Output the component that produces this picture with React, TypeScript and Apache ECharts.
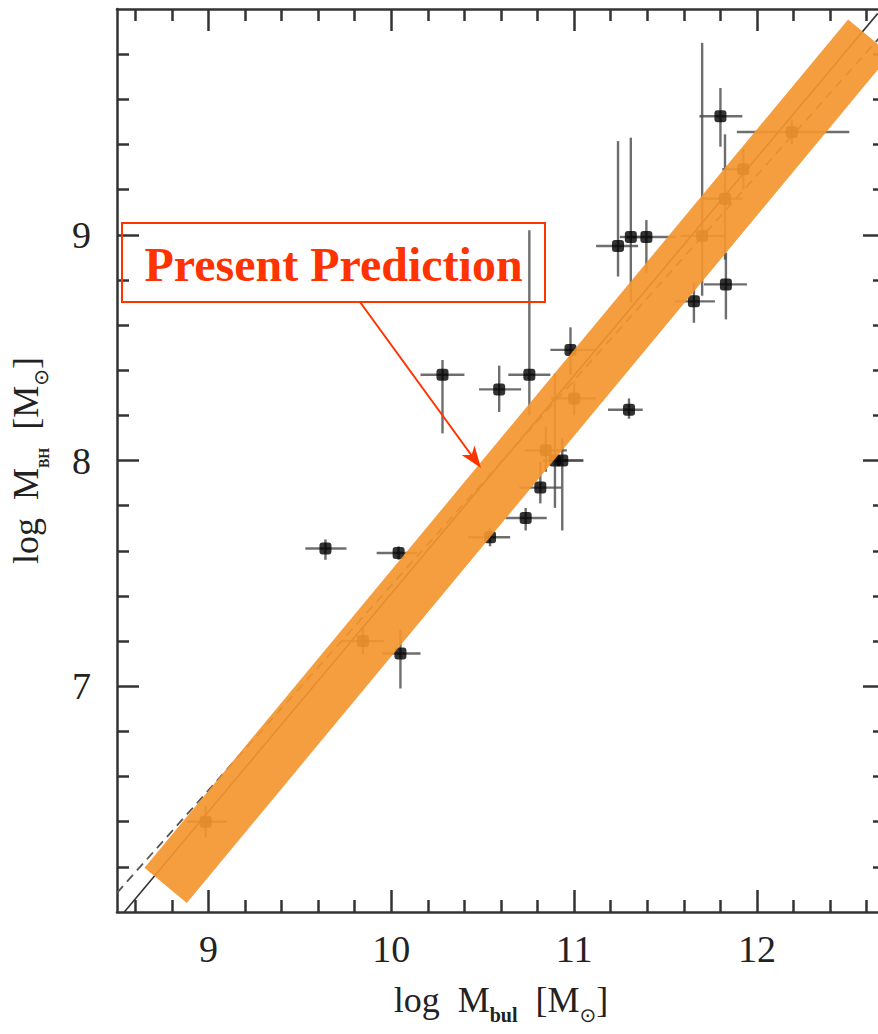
import React, { useEffect, useRef } from "react";
import * as echarts from "echarts";

// ---- data ----
const bulgeMass = [9.64, 10.04, 10.05, 10.28, 10.59, 10.755, 10.98, 11.30, 10.895, 10.935, 10.815, 10.735, 10.54, 11.24, 11.31, 11.395, 11.655, 11.83, 11.80, 8.985, 9.845, 11.0, 10.845, 11.70, 11.825, 11.925, 12.19];
const bhMass = [7.61, 7.59, 7.145, 8.38, 8.315, 8.38, 8.49, 8.225, 8.0, 8.0, 7.88, 7.745, 7.66, 8.95, 8.99, 8.99, 8.705, 8.78, 9.525, 6.40, 7.20, 8.275, 8.045, 8.995, 9.16, 9.29, 9.455];
const bulgeLo = [9.53, 9.92, 9.95, 10.16, 10.48, 10.64, 10.87, 11.185, 10.83, 10.87, 10.70, 10.625, 10.42, 11.12, 11.25, 11.29, 11.55, 11.71, 11.685, 8.88, 9.73, 10.87, 10.73, 11.58, 11.70, 11.81, 11.89];
const bulgeHi = [9.755, 10.14, 10.16, 10.40, 10.71, 10.87, 11.12, 11.375, 11.05, 11.05, 10.93, 10.85, 10.65, 11.35, 11.37, 11.555, 11.77, 11.945, 11.92, 9.10, 9.96, 11.12, 10.96, 11.82, 11.92, 11.94, 12.505];
const bhLo = [7.56, 7.56, 6.99, 8.12, 8.215, 8.20, 8.38, 8.185, 7.79, 7.69, 7.81, 7.69, 7.62, 8.815, 8.70, 8.83, 8.61, 8.625, 9.39, 6.33, 7.14, 8.2, 7.95, 8.73, 8.89, 9.2, 9.4];
const bhHi = [7.65, 7.62, 7.25, 8.445, 8.42, 9.02, 8.59, 8.275, 8.385, 8.1, 7.995, 7.79, 7.70, 9.415, 9.43, 9.065, 8.785, 8.92, 9.65, 6.47, 7.26, 8.35, 8.15, 9.85, 9.445, 9.38, 9.51];

const predictionBand = [[8.766, 6.118], [12.614, 9.876]];
const solidRelation = [[8.54, 6.0], [12.66, 9.98]];
const dashedRelation = [[8.5, 6.085], [12.7, 9.9]];

const xMajorTicks = [9, 10, 11, 12];
const xMinorTicks = [8.6, 8.8, 9.2, 9.4, 9.6, 9.8, 10.2, 10.4, 10.6, 10.8, 11.2, 11.4, 11.6, 11.8, 12.2, 12.4, 12.6];
const yMajorTicks = [7, 8, 9];
const yMinorTicks = [6.2, 6.4, 6.6, 6.8, 7.2, 7.4, 7.6, 7.8, 8.2, 8.4, 8.6, 8.8, 9.2, 9.4, 9.6, 9.8];

const annotationText = "Present Prediction";

const AXIS_COLOR = "#333";
const SERIF = "'Liberation Serif', 'Times New Roman', serif";

export default function App() {
  const ref = useRef<HTMLDivElement>(null);

  useEffect(() => {
    if (!ref.current) return;
    const chart = echarts.init(ref.current, null, { renderer: "svg" });

    const points = bulgeMass.map((x, i) => [x, bhMass[i], bulgeLo[i], bulgeHi[i], bhLo[i], bhHi[i]]);

    const lineStyleAxis = { color: AXIS_COLOR, width: 2.5 };

    const xAxisMain = (pos: string, labels: boolean) => ({
      type: "value",
      position: pos,
      min: 8.5,
      max: 12.7,
      splitLine: { show: false },
      axisLine: { show: true, onZero: false, lineStyle: lineStyleAxis },
      axisTick: { show: true, inside: true, length: 22, customValues: xMajorTicks, lineStyle: { color: AXIS_COLOR, width: 2.5 } },
      axisLabel: labels
        ? { show: true, customValues: xMajorTicks, margin: 18, fontSize: 38, fontFamily: SERIF, color: "#222" }
        : { show: false },
    });
    const xAxisMinor = (pos: string) => ({
      type: "value",
      position: pos,
      min: 8.5,
      max: 12.7,
      splitLine: { show: false },
      axisLine: { show: false, onZero: false },
      axisTick: { show: true, inside: true, length: 12, customValues: xMinorTicks, lineStyle: { color: AXIS_COLOR, width: 2.5 } },
      axisLabel: { show: false },
    });
    const yAxisMain = (pos: string, labels: boolean) => ({
      type: "value",
      position: pos,
      min: 6,
      max: 10,
      splitLine: { show: false },
      axisLine: { show: true, onZero: false, lineStyle: lineStyleAxis },
      axisTick: { show: true, inside: true, length: 22, customValues: yMajorTicks, lineStyle: { color: AXIS_COLOR, width: 2.5 } },
      axisLabel: labels
        ? { show: true, customValues: yMajorTicks, margin: 26, fontSize: 38, fontFamily: SERIF, color: "#222" }
        : { show: false },
    });
    const yAxisMinor = (pos: string) => ({
      type: "value",
      position: pos,
      min: 6,
      max: 10,
      splitLine: { show: false },
      axisLine: { show: false, onZero: false },
      axisTick: { show: true, inside: true, length: 12, customValues: yMinorTicks, lineStyle: { color: AXIS_COLOR, width: 2.5 } },
      axisLabel: { show: false },
    });

    const nameRich = {
      a: { fontSize: 36, fontFamily: SERIF, color: "#222", verticalAlign: "bottom", padding: [0, 0, 9, 0] },
      s: { fontSize: 20, fontFamily: SERIF, fontWeight: "bold", color: "#222", verticalAlign: "bottom", padding: [0, 0, 2, 0] },
      o: { fontSize: 20, fontFamily: "'DejaVu Sans', sans-serif", color: "#222", verticalAlign: "bottom", padding: [0, 0, 2, 0] },
    };

    const xMain = xAxisMain("bottom", true) as any;
    xMain.name = "{a|log  M}{s|bul}{a|  [M}{o|⊙}{a|]}";
    xMain.nameLocation = "middle";
    xMain.nameGap = 70;
    xMain.nameTextStyle = { rich: nameRich };

    const yMain = yAxisMain("left", true) as any;
    yMain.name = "{a|log  M}{s|BH}{a|  [M}{o|⊙}{a|]}";
    yMain.nameLocation = "middle";
    yMain.nameGap = 64;
    yMain.nameTextStyle = { rich: { ...nameRich, s: { ...nameRich.s, fontSize: 14 } } };

    const option: any = {
      animation: false,
      backgroundColor: "#fff",
      grid: { left: 112, right: 15, top: 9, bottom: 122 },
      xAxis: [xMain, xAxisMinor("bottom"), xAxisMain("top", false), xAxisMinor("top")],
      yAxis: [yMain, yAxisMinor("left"), yAxisMain("right", false), yAxisMinor("right")],
      series: [
        {
          type: "line",
          data: solidRelation,
          showSymbol: false,
          symbol: "none",
          lineStyle: { color: "#333", width: 1.6 },
          z: 2,
        },
        {
          type: "line",
          data: dashedRelation,
          showSymbol: false,
          symbol: "none",
          lineStyle: { color: "#555", width: 1.8, type: [9, 6] },
          z: 2,
        },
        {
          type: "custom",
          data: points,
          encode: { x: 0, y: 1 },
          z: 3,
          renderItem: (params: any, api: any) => {
            const x = api.value(0);
            const y = api.value(1);
            const a = api.coord([api.value(2), y]);
            const b = api.coord([api.value(3), y]);
            const c = api.coord([x, api.value(4)]);
            const d = api.coord([x, api.value(5)]);
            const st = { stroke: "#4a4a4a", lineWidth: 2.4, opacity: 0.8 };
            return {
              type: "group",
              children: [
                { type: "line", shape: { x1: a[0], y1: a[1], x2: b[0], y2: b[1] }, style: st },
                { type: "line", shape: { x1: c[0], y1: c[1], x2: d[0], y2: d[1] }, style: st },
              ],
            };
          },
        },
        {
          type: "scatter",
          data: points.map((p) => [p[0], p[1]]),
          symbol: "roundRect",
          symbolSize: 12,
          itemStyle: { color: "#000" },
          z: 4,
        },
        {
          type: "line",
          data: predictionBand,
          showSymbol: false,
          symbol: "none",
          lineStyle: { color: "#F3962F", width: 55, opacity: 0.92, cap: "butt" },
          z: 6,
        },
      ],
      graphic: [
        {
          type: "rect",
          shape: { x: 122, y: 223, width: 423, height: 79 },
          style: { fill: "none", stroke: "#FF3300", lineWidth: 2 },
          z: 100,
        },
        {
          type: "text",
          x: 333.5,
          y: 264,
          style: {
            text: annotationText,
            fill: "#FF3300",
            fontSize: 48,
            fontWeight: "bold",
            fontFamily: SERIF,
            align: "center",
            verticalAlign: "middle",
          },
          z: 100,
        },
        {
          type: "line",
          shape: { x1: 360, y1: 302, x2: 472, y2: 456 },
          style: { stroke: "#FF3300", lineWidth: 2 },
          z: 100,
        },
        {
          type: "polygon",
          shape: { points: [[481, 468], [461.6, 454.9], [471.6, 455.1], [474.5, 445.5]] },
          style: { fill: "#FF3300" },
          z: 100,
        },
      ],
    };

    chart.setOption(option);
    return () => chart.dispose();
  }, []);

  return (
    <div style={{ position: "fixed", left: 0, top: 0, width: 878, height: 1034, overflow: "hidden", background: "#fff" }}>
      <div ref={ref} style={{ width: 900, height: 1034 }} />
    </div>
  );
}
